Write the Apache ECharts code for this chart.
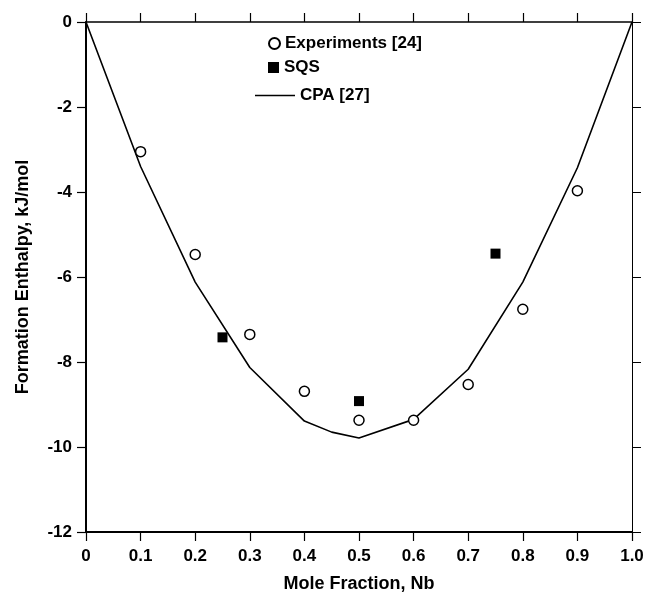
<!DOCTYPE html>
<html>
<head>
<meta charset="utf-8">
<script src="https://cdn.jsdelivr.net/npm/echarts@6/dist/echarts.min.js"></script>
<style>
html,body{margin:0;padding:0;background:#fff;}
#chart{width:647px;height:598px;}
</style>
</head>
<body>
<div id="chart"></div>
<script>
// Data
const expX = [0.1, 0.2, 0.3, 0.4, 0.5, 0.6, 0.7, 0.8, 0.9];
const expY = [-3.05, -5.47, -7.35, -8.69, -9.37, -9.37, -8.53, -6.76, -3.97];
const sqsX = [0.25, 0.5, 0.75];
const sqsY = [-7.42, -8.92, -5.45];
const cpaX = [0, 0.1, 0.2, 0.3, 0.4, 0.45, 0.5, 0.6, 0.7, 0.8, 0.9, 1.0];
const cpaY = [0, -3.4, -6.12, -8.13, -9.39, -9.65, -9.79, -9.35, -8.17, -6.12, -3.43, 0];
const xTicks = ['0', '0.1', '0.2', '0.3', '0.4', '0.5', '0.6', '0.7', '0.8', '0.9', '1.0'];

const FONT = '"Liberation Sans", Arial, Helvetica, sans-serif';
const zip = (xs, ys) => xs.map((x, i) => [x, ys[i]]);

const chart = echarts.init(document.getElementById('chart'), null, {renderer: 'canvas'});
const baseText = {fontFamily: FONT, fontWeight: 'bold', color: '#000'};
const legendText = Object.assign({fontSize: 17}, baseText);

chart.setOption({
  backgroundColor: '#fff',
  animation: false,
  grid: {left: 86, right: 15, top: 22, bottom: 64, containLabel: false},
  legend: [
    {data: ['Experiments [24]'], left: 268, top: 35, padding: 0, itemWidth: 11, itemHeight: 11,
     itemGap: 0, textStyle: legendText},
    {data: ['SQS'], left: 268, top: 59, padding: 0, itemWidth: 11, itemHeight: 11,
     itemGap: 0, textStyle: legendText},
    {data: [{name: 'CPA [27]', icon: 'rect'}], left: 255, top: 87, padding: 0,
     itemWidth: 40, itemHeight: 1.6, itemGap: 0, textStyle: legendText}
  ],
  xAxis: [
    {
      type: 'value', position: 'bottom', min: 0, max: 1, interval: 0.1,
      name: 'Mole Fraction, Nb', nameLocation: 'middle', nameGap: 43,
      nameTextStyle: Object.assign({fontSize: 18}, baseText),
      axisLine: {show: true, onZero: false, lineStyle: {color: '#000', width: 2}},
      axisTick: {show: true, inside: false, length: 9, lineStyle: {color: '#000', width: 1.2}},
      axisLabel: Object.assign({fontSize: 17, margin: 16,
        formatter: v => xTicks[Math.round(v * 10)]}, baseText),
      splitLine: {show: false}
    },
    {
      type: 'value', position: 'top', min: 0, max: 1, interval: 0.1,
      axisLine: {show: true, onZero: false, lineStyle: {color: '#000', width: 1.5}},
      axisTick: {show: true, inside: false, length: 9, lineStyle: {color: '#000', width: 1.2}},
      axisLabel: {show: false},
      splitLine: {show: false}
    }
  ],
  yAxis: [
    {
      type: 'value', position: 'left', min: -12, max: 0, interval: 2,
      name: 'Formation Enthalpy, kJ/mol', nameLocation: 'middle', nameGap: 54,
      nameTextStyle: Object.assign({fontSize: 18}, baseText),
      axisLine: {show: true, onZero: false, lineStyle: {color: '#000', width: 2}},
      axisTick: {show: true, inside: false, length: 9, lineStyle: {color: '#000', width: 1.2}},
      axisLabel: Object.assign({fontSize: 17, margin: 14}, baseText),
      splitLine: {show: false}
    },
    {
      type: 'value', position: 'right', min: -12, max: 0, interval: 2,
      axisLine: {show: true, onZero: false, lineStyle: {color: '#000', width: 1}},
      axisTick: {show: true, inside: false, length: 9, lineStyle: {color: '#000', width: 1}},
      axisLabel: {show: false},
      splitLine: {show: false}
    }
  ],
  series: [
    {
      name: 'CPA [27]', type: 'line', data: zip(cpaX, cpaY),
      symbol: 'none', smooth: false,
      lineStyle: {color: '#000', width: 1.6},
      itemStyle: {color: '#000'}, z: 2
    },
    {
      name: 'Experiments [24]', type: 'scatter', data: zip(expX, expY),
      symbol: 'circle', symbolSize: 10,
      itemStyle: {color: '#fff', borderColor: '#000', borderWidth: 1.5, opacity: 1}, z: 3
    },
    {
      name: 'SQS', type: 'scatter', data: zip(sqsX, sqsY),
      symbol: 'rect', symbolSize: 10,
      itemStyle: {color: '#000', borderColor: '#000', borderWidth: 0, opacity: 1}, z: 4
    }
  ]
});
</script>
</body>
</html>
